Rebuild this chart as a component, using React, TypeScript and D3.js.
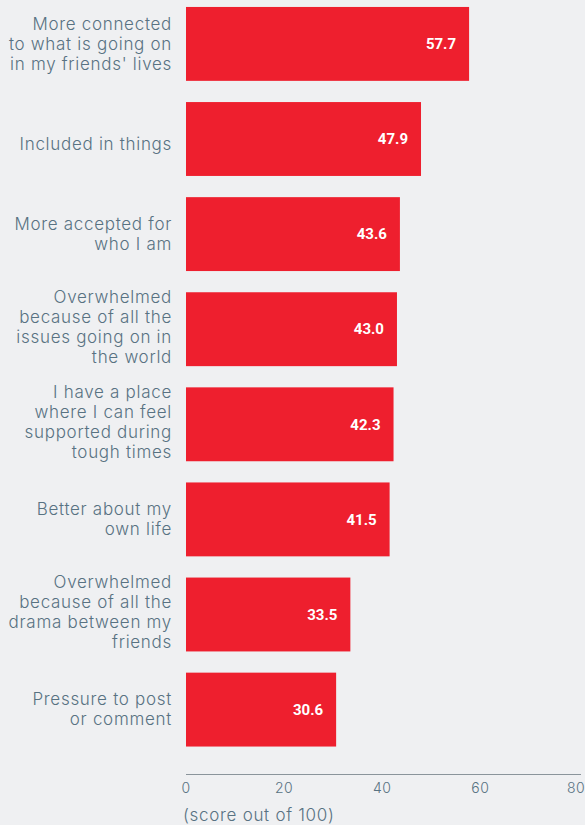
import React from "react";
import * as d3 from "d3";

const categories: string[][] = [
  ["More connected", "to what is going on", "in my friends' lives"],
  ["Included in things"],
  ["More accepted for", "who I am"],
  ["Overwhelmed", "because of all the", "issues going on in", "the world"],
  ["I have a place", "where I can feel", "supported during", "tough times"],
  ["Better about my", "own life"],
  ["Overwhelmed", "because of all the", "drama between my", "friends"],
  ["Pressure to post", "or comment"],
];
const values: number[] = [57.7, 47.9, 43.6, 43.0, 42.3, 41.5, 33.5, 30.6];
const tickValues: number[] = [0, 20, 40, 60, 80];
const axisTitle = "(score out of 100)";

const W = 585;
const H = 825;
const BG = "#eff0f2";
const RED = "#ee1f2e";
const TEXT = "#587282";
const FONT = "Inter, 'Open Sans', sans-serif";

export default function App() {
  const x = d3.scaleLinear().domain([0, 80]).range([186, 578.5]);
  const y = d3
    .scaleBand<number>()
    .domain(d3.range(values.length))
    .range([-3.5, 757])
    .paddingInner(0.223)
    .paddingOuter(0.11);
  const axisY = 774.5;
  const lh = 20;
  const baseOffset = (n: number) => (n === 1 ? 10.5 : n === 4 ? 3.5 : 5.7);

  return (
    <svg
      width={W}
      height={H}
      style={{ position: "absolute", left: 0, top: 0, background: BG }}
    >
      <rect x={0} y={0} width={W} height={H} fill={BG} />
      {values.map((v, i) => {
        const y0 = y(i)!;
        const bw = y.bandwidth();
        const cy = y0 + bw / 2;
        const lines = categories[i];
        const startY = cy + baseOffset(lines.length) - ((lines.length - 1) * lh) / 2;
        return (
          <g key={i}>
            <rect x={x(0)} y={y0} width={x(v) - x(0)} height={bw} fill={RED} />
            <text
              x={x(v) - 13}
              y={cy}
              dy="0.35em"
              textAnchor="end"
              fill="#ffffff"
              fontFamily="Roboto, Arial, sans-serif"
              fontWeight={700}
              fontSize={15}
            >
              {v.toFixed(1)}
            </text>
            <text
              textAnchor="end"
              fill={TEXT}
              fontFamily={FONT}
              fontWeight={300}
              fontSize={17}
              letterSpacing={0.7}
            >
              {lines.map((l, j) => (
                <tspan key={j} x={172} y={startY + j * lh}>
                  {l}
                </tspan>
              ))}
            </text>
          </g>
        );
      })}
      <line x1={x(0)} x2={581} y1={axisY} y2={axisY} stroke="#8a949b" strokeWidth={1} />
      {tickValues.map((t) => (
        <text
          key={t}
          x={Math.min(x(t), 576)}
          y={788}
          dy="0.35em"
          textAnchor="middle"
          fill={TEXT}
          fontFamily={FONT}
          fontWeight={300}
          fontSize={14}
          letterSpacing={0.5}
        >
          {t}
        </text>
      ))}
      <text
        x={183}
        y={815}
        dy="0.35em"
        fill={TEXT}
        fontFamily={FONT}
        fontWeight={300}
        fontSize={17}
        letterSpacing={0.7}
      >
        {axisTitle}
      </text>
    </svg>
  );
}
